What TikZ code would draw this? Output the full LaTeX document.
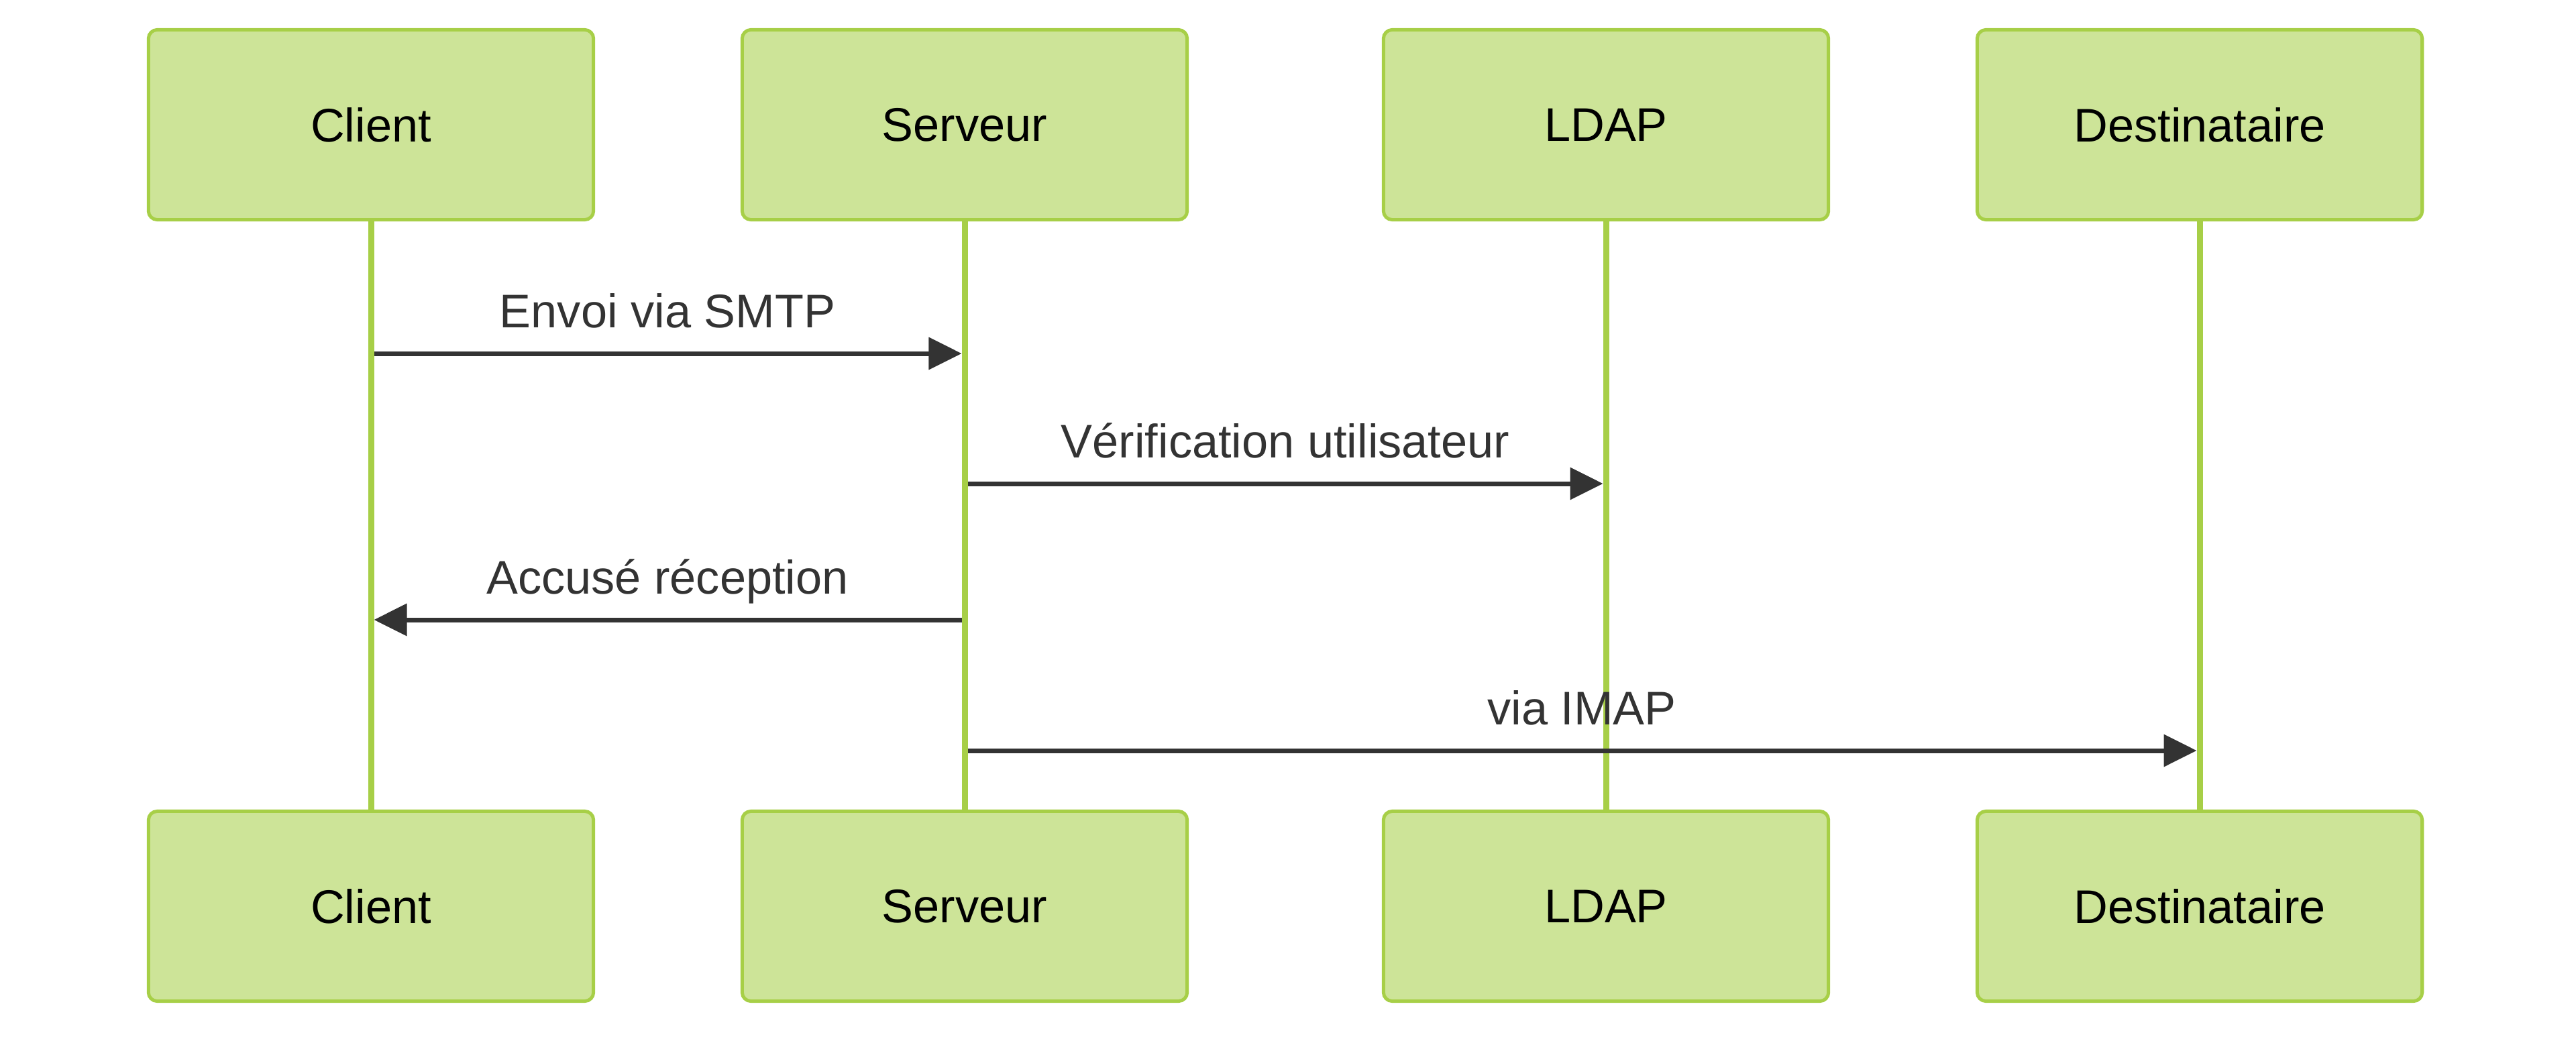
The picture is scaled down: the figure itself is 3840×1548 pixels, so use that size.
\documentclass[tikz,border=0pt]{standalone}
\usepackage{fontspec}
\setmainfont{Liberation Sans}
\usetikzlibrary{arrows.meta}
\definecolor{actfill}{HTML}{CDE498}
\definecolor{actline}{HTML}{A7CF47}
\definecolor{msgcol}{HTML}{333333}
\begin{document}
\begin{tikzpicture}[x=0.01cm,y=-0.01cm,
  actor/.style={draw=actline, line width=0.05cm, fill=actfill, rounded corners=0.13cm,
    minimum width=6.63cm, minimum height=2.83cm, inner sep=0pt,
    font=\fontsize{20}{24}\selectfont, text=black},
  lifeline/.style={draw=actline, line width=0.09cm},
  msg/.style={draw=msgcol, line width=0.07cm, -{Triangle[length=0.49cm,width=0.47cm]}},
  lbl/.style={font=\fontsize{20}{24}\selectfont, text=msgcol, anchor=base, inner sep=0pt}]
\useasboundingbox (0,0) rectangle (3840,1548);
% actors
\node[actor] (ct) at (553,186) {Client};
\node[actor] (st) at (1438,186) {Serveur};
\node[actor] (lt) at (2394,186) {LDAP};
\node[actor] (dt) at (3279,186) {Destinataire};
\node[actor] (cb) at (553,1351) {Client};
\node[actor] (sb) at (1438,1351) {Serveur};
\node[actor] (lb) at (2394,1351) {LDAP};
\node[actor] (db) at (3279,1351) {Destinataire};
% lifelines
\draw[lifeline] (ct.south) -- (cb.north);
\draw[lifeline] (st.south) -- (sb.north);
\draw[lifeline] (lt.south) -- (lb.north);
\draw[lifeline] (dt.south) -- (db.north);
% message endpoints
\coordinate (m1a) at (557.5,527);  \coordinate (m1b) at (1433.5,527);
\coordinate (m2a) at (1442.5,721); \coordinate (m2b) at (2389.5,721);
\coordinate (m3a) at (1433.5,924); \coordinate (m3b) at (557.5,924);
\coordinate (m4a) at (1442.5,1119); \coordinate (m4b) at (3274.5,1119);
% messages
\draw[msg] (m1a) -- (m1b);
\draw[msg] (m2a) -- (m2b);
\draw[msg] (m3a) -- (m3b);
\draw[msg] (m4a) -- (m4b);
% labels
\node[lbl] (l1) at (995,488) {Envoi via SMTP};
\node[lbl] (l2) at (1916,682) {Vérification utilisateur};
\node[lbl] (l3) at (995,885) {Accusé réception};
\node[lbl] (l4) at (2358,1080) {via IMAP};
\end{tikzpicture}
\end{document}
